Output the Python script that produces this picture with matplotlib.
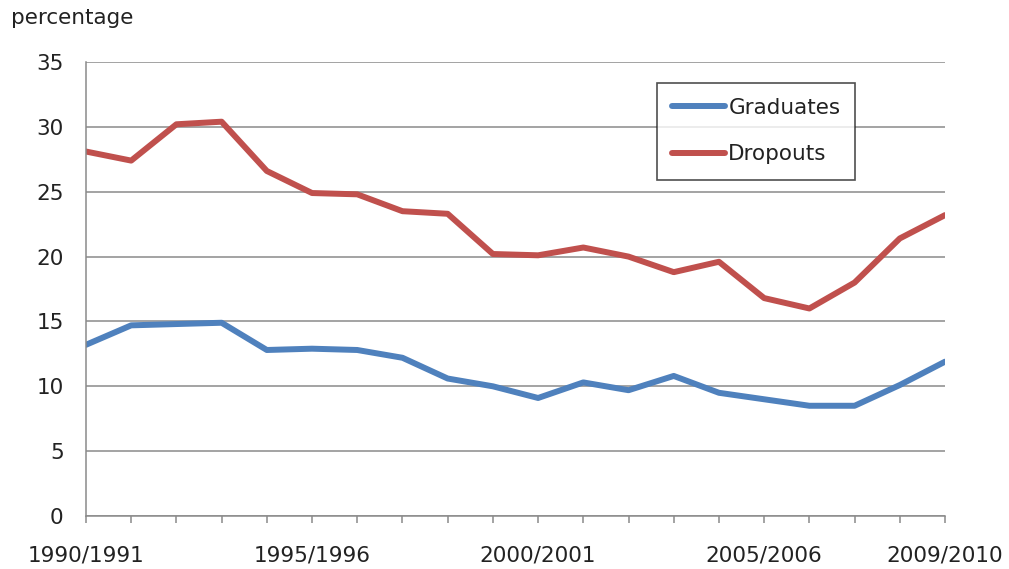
import numpy as np
import matplotlib.pyplot as plt

# school years 1990/1991 .. 2009/2010
years = ['%d/%d' % (y, y + 1) for y in range(1990, 2010)]
shown = ['1990/1991', '1995/1996', '2000/2001', '2005/2006', '2009/2010']

graduates = [13.2, 14.7, 14.8, 14.9, 12.8, 12.9, 12.8, 12.2, 10.6, 10.0,
             9.1, 10.3, 9.7, 10.8, 9.5, 9.0, 8.5, 8.5, 10.1, 11.9]
dropouts = [28.1, 27.4, 30.2, 30.4, 26.6, 24.9, 24.8, 23.5, 23.3, 20.2,
            20.1, 20.7, 20.0, 18.8, 19.6, 16.8, 16.0, 18.0, 21.4, 23.2]

plt.rcParams['font.family'] = ['DejaVu Sans']
fs = 15.5

fig = plt.figure(figsize=(10.09, 5.69), dpi=100)
ax = fig.add_axes([0.0852, 0.0931, 0.8514, 0.7979])

x = np.arange(len(years))
ax.plot(x, graduates, color='#4F81BD', lw=4.3, label='Graduates', solid_capstyle='round')
ax.plot(x, dropouts, color='#C0504D', lw=4.3, label='Dropouts', solid_capstyle='round')

ax.set_xlim(0, len(years) - 1)
ax.set_ylim(0, 35)
ax.set_yticks(range(0, 36, 5))
ax.yaxis.grid(True, color='#8a8a8a', lw=1.1)
ax.set_axisbelow(True)

ax.set_xticks(x)
ax.set_xticklabels([y if y in shown else '' for y in years])

for s in ['top', 'right']:
    ax.spines[s].set_visible(False)
for s in ['left', 'bottom']:
    ax.spines[s].set_color('#8a8a8a')
    ax.spines[s].set_linewidth(1.1)

ax.tick_params(axis='x', length=5, width=1.1, color='#8a8a8a', pad=16,
               labelsize=fs, labelcolor='#222222')
ax.tick_params(axis='y', length=0, pad=16, labelsize=fs, labelcolor='#222222')

fig.text(0.011, 0.968, 'percentage', fontsize=fs, color='#222222', va='center')

leg = ax.legend(loc='upper left', bbox_to_anchor=(0.665, 0.954), fontsize=fs,
                frameon=True, fancybox=False, handlelength=2.45, handletextpad=0.15,
                labelspacing=1.23, borderpad=0.7, borderaxespad=0)
leg.get_frame().set_edgecolor('#222222')
leg.get_frame().set_linewidth(1.2)
for t in leg.get_texts():
    t.set_color('#222222')

plt.savefig('out.png', dpi=100)
